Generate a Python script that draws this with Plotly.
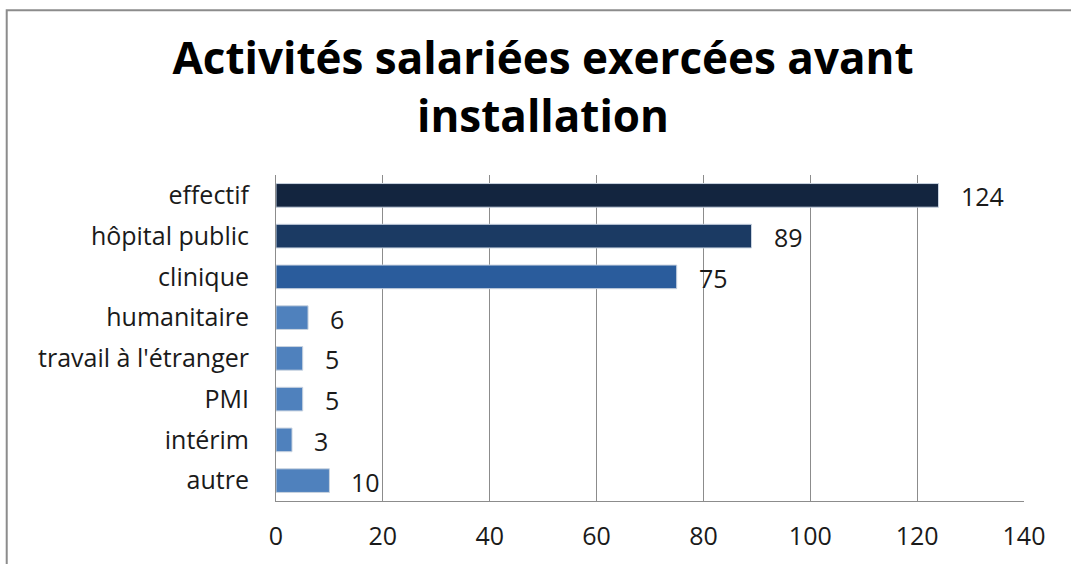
import plotly.graph_objects as go

# Activity categories (top to bottom) and number of respondents
categories = ["effectif", "hôpital public", "clinique", "humanitaire",
              "travail à l'étranger", "PMI", "intérim", "autre"]
values = [124, 89, 75, 6, 5, 5, 3, 10]
bar_colors = ["#13253F", "#1B3A63", "#2A5C9C", "#4F81BD",
              "#4F81BD", "#4F81BD", "#4F81BD", "#4F81BD"]
x_ticks = [0, 20, 40, 60, 80, 100, 120, 140]

FONT = "Open Sans"
TEXT = "#1A1A1A"

fig = go.Figure()
fig.add_trace(go.Bar(
    x=values,
    y=categories,
    orientation="h",
    marker=dict(color=bar_colors, line=dict(color="#C9D3E0", width=1)),
    width=0.58,
    hoverinfo="x+y",
))

# value labels just past the end of each bar
for cat, val in zip(categories, values):
    fig.add_annotation(
        x=val, y=cat, text=str(val), showarrow=False,
        xanchor="left", xshift=20, yshift=-1,
        font=dict(family=FONT, size=25, color=TEXT),
    )

fig.update_layout(
    width=1071, height=564,
    margin=dict(l=276, r=47, t=175, b=60),
    paper_bgcolor="white",
    plot_bgcolor="white",
    showlegend=False,
    title=dict(
        text="<b>Activités salariées exercées avant<br>installation</b>",
        x=0.507, xanchor="center",
        yref="container", y=0.868, yanchor="middle",
        font=dict(family=FONT, size=44, color="#000000"),
    ),
    xaxis=dict(
        range=[0, 140],
        tickvals=x_ticks,
        showgrid=True, gridcolor="#8C8C8C", gridwidth=1,
        showline=True, linecolor="#8C8C8C", linewidth=1,
        zeroline=False,
        ticks="", ticklen=0,
        ticklabelstandoff=13,
        tickfont=dict(family=FONT, size=25, color=TEXT),
        fixedrange=True,
    ),
    yaxis=dict(
        categoryorder="array",
        categoryarray=categories[::-1],
        showgrid=False,
        showline=True, linecolor="#8C8C8C", linewidth=1,
        ticks="", ticklen=0,
        ticklabelstandoff=21,
        tickfont=dict(family=FONT, size=25, color=TEXT),
        fixedrange=True,
    ),
    # outer chart frame (top and left edges visible)
    shapes=[dict(
        type="rect", xref="paper", yref="paper",
        x0=-0.36, x1=1.2, y0=-0.5, y1=1.505,
        line=dict(color="#8C8C8C", width=2),
    )],
)

fig.write_html("out.html")
